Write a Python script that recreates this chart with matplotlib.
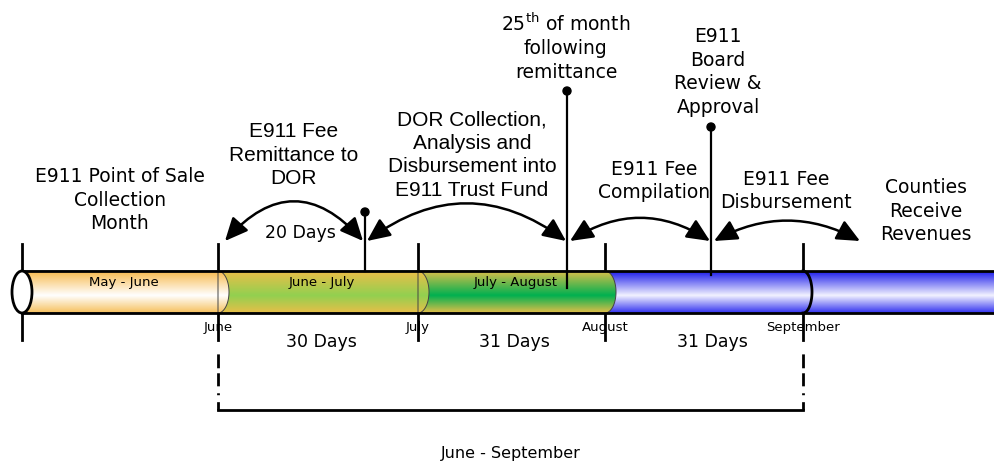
import numpy as np
import matplotlib
matplotlib.use("Agg")
import matplotlib.pyplot as plt
from matplotlib.patches import PathPatch, Ellipse, Circle, FancyArrowPatch
from matplotlib.path import Path

# --- Timeline data (pixel layout of the original diagram) ---
month_ticks = ["June", "July", "August", "September"]
month_x = [218, 418, 605, 803]
tube_start_x = 22

segment_labels = ["May - June", "June - July", "July - August", ""]
segment_bounds = [(22, 218), (218, 418), (418, 605), (605, 1000)]
segment_colors = [  # (top, centre, bottom) of the vertical gradient
    ((248, 186, 78), (255, 255, 255), (246, 192, 92)),
    ((236, 190, 72), (146, 208, 80), (232, 190, 72)),
    ((218, 190, 74), (0, 176, 80), (228, 190, 72)),
    ((28, 28, 235), (242, 242, 255), (50, 50, 240)),
]

day_labels = ["30 Days", "31 Days", "31 Days"]
day_x = [321, 514, 712]

pin_x = [365, 567, 711]
pin_top = [212, 91, 127]
pin_bottom = [271, 288, 275]

arc_start = [225, 367, 570, 714]
arc_end = [363, 566, 710, 860]
arc_rad = [-0.56, -0.37, -0.32, -0.27]

step_texts = [
    ("E911 Point of Sale\nCollection\nMonth", 120, 200, "DejaVu Sans"),
    ("E911 Fee\nRemittance to\nDOR", 294, 155, "Liberation Sans"),
    ("DOR Collection,\nAnalysis and\nDisbursement into\nE911 Trust Fund", 472, 155, "Liberation Sans"),
    ("25$^{\\rm th}$ of month\nfollowing\nremittance", 566, 47, "DejaVu Sans"),
    ("E911\nBoard\nReview &\nApproval", 718, 72, "DejaVu Sans"),
    ("E911 Fee\nCompilation", 654, 181, "DejaVu Sans"),
    ("E911 Fee\nDisbursement", 786, 191, "DejaVu Sans"),
    ("Counties\nReceive\nRevenues", 926, 211, "DejaVu Sans"),
]

span_label = "June - September"

# --- Geometry ---
tube_top, tube_bot = 271, 313
tube_mid = (tube_top + tube_bot) / 2
ry = (tube_bot - tube_top) / 2
cap_rx = 11

fig = plt.figure(figsize=(9.95, 4.61), dpi=100)
ax = fig.add_axes([0, 0, 1, 1])


def segment_path(xl, xr, rx):
    t = np.linspace(-np.pi / 2, np.pi / 2, 60)
    cap = np.column_stack([xr + rx * np.cos(t), tube_mid + ry * np.sin(t)])
    verts = np.vstack([[xl, tube_bot], [xl, tube_top], cap, [xl, tube_bot]])
    return Path(verts, closed=True)


def gradient(top, centre, bottom, n=120, mid=0.58):
    y = np.linspace(0, 1, n)
    cols = np.zeros((n, 3))
    for k in range(3):
        cols[:, k] = np.interp(y, [0, mid, 1], [top[k], centre[k], bottom[k]])
    return (cols / 255)[:, None, :]


# tick marks behind the tube
for x in [tube_start_x] + month_x:
    ax.plot([x, x], [244, 340], color="black", lw=2, zorder=1)

# segments are drawn right to left so every cap sits on top of the next segment
for i in reversed(range(len(segment_bounds))):
    xl, xr = segment_bounds[i]
    last = i == len(segment_bounds) - 1
    rx = 0 if last else cap_rx
    patch = PathPatch(segment_path(xl, xr, rx), facecolor="none",
                      edgecolor="#444444" if not last else "none", lw=0.7, zorder=3 + (3 - i) * 0.1)
    ax.add_patch(patch)
    im = ax.imshow(gradient(*segment_colors[i]), extent=(xl, xr + rx + 1, tube_bot, tube_top),
                   aspect="auto", zorder=2 + (3 - i) * 0.1, interpolation="bilinear")
    im.set_clip_path(patch)
    if segment_labels[i]:
        ax.text((xl + xr) / 2 + 4, 282, segment_labels[i], fontsize=9.5, ha="center", va="center",
                family="DejaVu Sans", zorder=5)

# tube outline
ax.plot([tube_start_x, 1000], [tube_top, tube_top], color="black", lw=2, zorder=4)
ax.plot([tube_start_x, 1000], [tube_bot, tube_bot], color="black", lw=2, zorder=4)
ax.add_patch(Ellipse((tube_start_x, tube_mid), 20, tube_bot - tube_top, facecolor="white",
                     edgecolor="black", lw=2, zorder=4))
# September divider inside the blue part
t = np.linspace(-np.pi / 2, np.pi / 2, 60)
ax.plot(month_x[3] + 9 * np.cos(t), tube_mid + ry * np.sin(t), color="black", lw=2, zorder=4)

# month tick labels
for name, x in zip(month_ticks, month_x):
    ax.text(x, 327, name, fontsize=9.5, ha="center", va="center", family="DejaVu Sans", zorder=5)

# day counts
for lab, x in zip(day_labels, day_x):
    ax.text(x, 342, lab, fontsize=12.5, ha="center", va="center", family="DejaVu Sans")

# pins
for x, y0, y1 in zip(pin_x, pin_top, pin_bottom):
    ax.plot([x, x], [y0, y1], color="black", lw=1.6, zorder=6)
    ax.add_patch(Circle((x, y0), 4, color="black", zorder=6))

# curved double arrows
for x0, x1, r in zip(arc_start, arc_end, arc_rad):
    arr = FancyArrowPatch((x0, 241), (x1, 241), connectionstyle=f"arc3,rad={r}",
                          arrowstyle="<|-|>,head_length=0.7,head_width=0.32",
                          mutation_scale=20, color="black", lw=1.8, zorder=7,
                          shrinkA=0, shrinkB=0)
    ax.add_patch(arr)

# step descriptions
for txt, x, y, fam in step_texts:
    if fam == "Liberation Sans":
        ax.text(x, y, txt, fontsize=15, ha="center", va="center", family=fam, linespacing=1.3)
    else:
        ax.text(x, y, txt, fontsize=13.5, ha="center", va="center", family=fam, linespacing=1.3)
ax.text(300, 233, "20 Days", fontsize=12.5, ha="center", va="center", family="DejaVu Sans")

# June - September bracket
for x in (month_x[0], month_x[3]):
    ax.plot([x, x], [410, 340], color="black", lw=2,
            linestyle=(0, (3, 2.5, 0.7, 2.5, 4.7, 1.8, 5, 10)))
ax.plot([month_x[0], month_x[3]], [410, 410], color="black", lw=2)
ax.text((month_x[0] + month_x[3]) / 2, 453, span_label, fontsize=11.5, ha="center", va="center",
        family="DejaVu Sans")

ax.set_xlim(0, 995)
ax.set_ylim(461, 0)
ax.axis("off")

fig.savefig("out.png", dpi=100)
